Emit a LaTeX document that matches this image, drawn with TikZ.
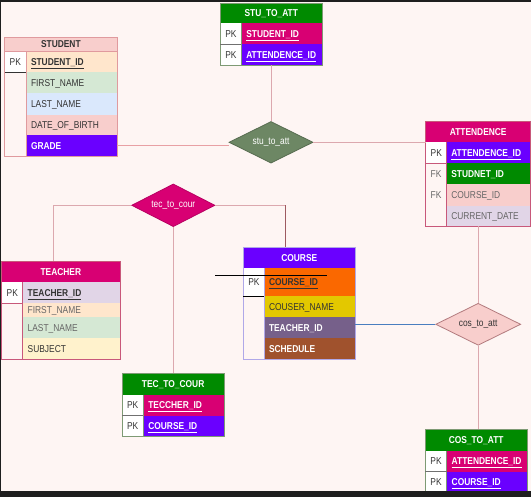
\documentclass[tikz,border=0pt]{standalone}
\usepackage{fontspec}
\setmainfont{Liberation Sans}[FakeStretch=0.84]
\usetikzlibrary{shapes.geometric}
\definecolor{cBg}{HTML}{FEF5F3}
\definecolor{cBand}{HTML}{1E1E1E}
\definecolor{cTxt}{HTML}{333333}
\definecolor{cFk}{HTML}{666666}
\definecolor{cGreen}{HTML}{008A00}
\definecolor{cMag}{HTML}{D80073}
\definecolor{cVio}{HTML}{6A00FF}
\definecolor{cOrange}{HTML}{FA6800}
\definecolor{cYellow}{HTML}{E3C800}
\definecolor{cPurp}{HTML}{76608A}
\definecolor{cBrown}{HTML}{A0522D}
\definecolor{cOlive}{HTML}{6D8764}
\definecolor{lPeach}{HTML}{FFE6CC}
\definecolor{lGreen}{HTML}{D5E8D4}
\definecolor{lBlue}{HTML}{DAE8FC}
\definecolor{lRed}{HTML}{F8CECC}
\definecolor{lPurp}{HTML}{E1D5E7}
\definecolor{lYel}{HTML}{FFF2CC}
\definecolor{bRed}{HTML}{E09A9E}
\definecolor{bMag}{HTML}{C8587A}
\definecolor{bLav}{HTML}{B0A8E8}
\definecolor{bGrn}{HTML}{7E9A74}
\definecolor{cLine}{HTML}{DCA8AE}
\definecolor{cLineS}{HTML}{E8A0A4}
\definecolor{cLineB}{HTML}{9E5A60}
\definecolor{cBlue}{HTML}{4A7EBF}
\newcommand\fs{\fontsize{10}{12}\selectfont}
\newcommand\ercell[9]{%
  \pgfmathsetmacro\ercw{#4-10}%
  \node[ercellbase, minimum width=#4pt, minimum height=#5pt, text width=\ercw pt,
        fill=#6, text=#7, #8] (#1) at (#2,#3) {#9};}
\tikzset{
  ercellbase/.style={anchor=north west, inner xsep=5pt, inner ysep=0pt, outer sep=0pt, font=\fs,
                     text height=7.2pt, text depth=0pt},
  hdr/.style={align=center, font=\fs\bfseries},
  ctr/.style={align=center},
  lft/.style={align=left},
  bf/.style={font=\fs\bfseries},
  conn/.style={draw=cLine, line width=1pt},
  outl/.style={line width=0.9pt},
  rel/.style={diamond, aspect=2, inner sep=0pt, font=\fs, line width=0.8pt},
}
\begin{document}
\begin{tikzpicture}[x=1pt, y=-1pt]
\useasboundingbox (0,0) rectangle (531,497);
\fill[cBg] (0,0) rectangle (531,497);

% ---------- relationship diamonds ----------
\node[rel, fill=cOlive, draw=cOlive!80!black, text=white, minimum width=84pt, minimum height=41.6pt] (d1) at (271,142.3) {stu\_to\_att};
\node[rel, fill=cMag, draw=cMag!85!black, text=white, minimum width=83.3pt, minimum height=42.7pt] (d2) at (173.3,205.3) {tec\_to\_cour};
\node[rel, fill=lRed, draw=bRed!80!black, text=cTxt, minimum width=85pt, minimum height=42pt] (d3) at (478.2,324.3) {cos\_to\_att};

% ---------- STUDENT ----------
\ercell{stuh}{4.7}{37.3}{112.3}{14}{lRed}{cTxt}{hdr}{STUDENT}
\ercell{stupk}{4.7}{51.3}{21.3}{20.7}{white}{cTxt}{ctr}{PK}
\ercell{stuid}{26}{51.3}{91}{20.7}{lPeach}{cTxt}{lft,bf}{\underline{STUDENT\_ID}}
\ercell{stufn}{26}{72}{91}{21.3}{lGreen}{cTxt}{lft}{FIRST\_NAME}
\ercell{stuln}{26}{93.3}{91}{21.4}{lBlue}{cTxt}{lft}{LAST\_NAME}
\ercell{studob}{26}{114.7}{91}{20.6}{lRed}{cTxt}{lft}{DATE\_OF\_BIRTH}
\ercell{stugr}{26}{135.3}{91}{20.7}{cVio}{white}{lft,bf}{GRADE}
\draw[outl, bRed] (stuh.north west) rectangle (stugr.south east);
\draw[outl, bRed] (stuh.south west) -- (stuh.south east);
\draw[outl, bRed] (stupk.north east) -- (stupk.north east |- stugr.south);
\draw[outl, cTxt] (stupk.south west) -- (stupk.south east);

% ---------- STU_TO_ATT ----------
\ercell{sah}{220.3}{3}{102}{20.3}{cGreen}{white}{hdr}{STU\_TO\_ATT}
\ercell{sapk1}{220.3}{23.3}{21}{20.7}{white}{cTxt}{ctr}{PK}
\ercell{saf1}{241.3}{23.3}{81}{20.7}{cMag}{white}{lft,bf}{\underline{STUDENT\_ID}}
\ercell{sapk2}{220.3}{44}{21}{21}{white}{cTxt}{ctr}{PK}
\ercell{saf2}{241.3}{44}{81}{21}{cVio}{white}{lft,bf}{\underline{ATTENDENCE\_ID}}
\draw[outl, bGrn] (sah.north west) rectangle (saf2.south east);
\draw[outl, bGrn] (sapk1.north east) -- (sapk2.south east);
\draw[outl, cTxt!70] (sapk1.south west) -- (sapk1.south east);

% ---------- ATTENDENCE ----------
\ercell{ath}{425.7}{121.7}{105}{20.3}{cMag}{white}{hdr}{ATTENDENCE}
\ercell{atpk1}{425.7}{142}{20.6}{21.3}{white}{cTxt}{ctr}{PK}
\ercell{atf1}{446.3}{142}{84.4}{21.3}{cVio}{white}{lft,bf}{\underline{ATTENDENCE\_ID}}
\ercell{atk2}{425.7}{163.3}{20.6}{21}{cBg}{cFk}{ctr}{FK}
\ercell{atf2}{446.3}{163.3}{84.4}{21}{cGreen}{white}{lft,bf}{STUDNET\_ID}
\ercell{atk3}{425.7}{184.3}{20.6}{21.4}{cBg}{cFk}{ctr}{FK}
\ercell{atf3}{446.3}{184.3}{84.4}{21.4}{lRed}{cFk}{lft}{COURSE\_ID}
\ercell{atk4}{425.7}{205.7}{20.6}{20.6}{cBg}{cFk}{ctr}{}
\ercell{atf4}{446.3}{205.7}{84.4}{20.6}{lPurp}{cFk}{lft}{CURRENT\_DATE}
\draw[outl, bMag] (ath.north west) rectangle (atf4.south east);
\draw[outl, bMag] (atpk1.north east) -- (atpk1.north east |- atf4.south);
\draw[outl, bMag] (atpk1.south west) -- (atpk1.south east);

% ---------- TEACHER ----------
\ercell{teh}{1.7}{261.3}{118.3}{21}{cMag}{white}{hdr}{TEACHER}
\ercell{tepk}{1.7}{282.3}{21}{21}{white}{cTxt}{ctr}{PK}
\ercell{teid}{22.7}{282.3}{97.3}{21}{lPurp}{cTxt}{lft,bf}{\underline{TEACHER\_ID}}
\ercell{tefn}{22.7}{303.3}{97.3}{14}{lPeach}{cFk}{lft}{FIRST\_NAME}
\ercell{teln}{22.7}{317.3}{97.3}{21}{lGreen}{cFk}{lft}{LAST\_NAME}
\ercell{tesu}{22.7}{338.3}{97.3}{21}{lYel}{cTxt}{lft}{SUBJECT}
\draw[outl, bMag] (teh.north west) rectangle (tesu.south east);
\draw[outl, bMag] (tepk.north east) -- (tepk.north east |- tesu.south);
\draw[outl, bMag] (tepk.south west) -- (tepk.south east);

% ---------- COURSE ----------
\ercell{coh}{243.3}{247.3}{112}{21}{cVio}{white}{hdr}{COURSE}
\ercell{copk}{243.3}{268.3}{20.7}{27.7}{white}{cTxt}{ctr}{PK}
\ercell{coid}{264}{268.3}{91.3}{27.7}{cOrange}{cTxt}{lft,bf}{\underline{COURSE\_ID}}
\ercell{conm}{264}{296}{91.3}{21.3}{cYellow}{cTxt}{lft}{COUSER\_NAME}
\ercell{cotid}{264}{317.3}{91.3}{21}{cPurp}{white}{lft,bf}{TEACHER\_ID}
\ercell{cosc}{264}{338.3}{91.3}{21}{cBrown}{white}{lft,bf}{SCHEDULE}
\draw[outl, bLav] (coh.north west) rectangle (cosc.south east);
\draw[outl, bLav] (copk.north east) -- (copk.north east |- cosc.south);
\draw[outl, black] (copk.south west) -- (copk.south east);
\coordinate (strayA) at (215,275.3);
\coordinate (strayB) at (327.3,275.3);
\draw[line width=0.8pt, black] (strayA) -- (strayB);

% ---------- TEC_TO_COUR ----------
\ercell{tch}{122}{373.3}{102.3}{21.4}{cGreen}{white}{hdr}{TEC\_TO\_COUR}
\ercell{tcpk1}{122}{394.7}{21.3}{21}{white}{cTxt}{ctr}{PK}
\ercell{tcf1}{143.3}{394.7}{81}{21}{cMag}{white}{lft,bf}{\underline{TECCHER\_ID}}
\ercell{tcpk2}{122}{415.7}{21.3}{21}{white}{cTxt}{ctr}{PK}
\ercell{tcf2}{143.3}{415.7}{81}{21}{cVio}{white}{lft,bf}{\underline{COURSE\_ID}}
\draw[outl, bGrn] (tch.north west) rectangle (tcf2.south east);
\draw[outl, bGrn] (tcpk1.north east) -- (tcpk2.south east);
\draw[outl, cTxt!70] (tcpk1.south west) -- (tcpk1.south east);

% ---------- COS_TO_ATT ----------
\ercell{cah}{425.3}{429.3}{101.7}{21.7}{cGreen}{white}{hdr}{COS\_TO\_ATT}
\ercell{capk1}{425.3}{451}{21.4}{20.7}{white}{cTxt}{ctr}{PK}
\ercell{caf1}{446.7}{451}{80.3}{20.7}{cMag}{white}{lft,bf}{\underline{ATTENDENCE\_ID}}
\ercell{capk2}{425.3}{471.7}{21.4}{20.6}{white}{cTxt}{ctr}{PK}
\ercell{caf2}{446.7}{471.7}{80.3}{20.6}{cVio}{white}{lft,bf}{\underline{COURSE\_ID}}
\draw[outl, bGrn] (cah.north west) rectangle (caf2.south east);
\draw[outl, bGrn] (capk1.north east) -- (capk2.south east);
\draw[outl, cTxt!70] (capk1.south west) -- (capk1.south east);

% ---------- connectors ----------
\draw[conn, draw=cLineS] (stugr.east) -- (stugr.east -| d1.west);
\draw[conn] (d1.north) -- (d1.north |- saf2.south);
\draw[conn] (d1.east) -- (d1.east -| ath.west);
\draw[conn] (d2.west) -| ([xshift=-7pt]teh.north);
\draw[conn] (d2.east) -- ([xshift=-13.6pt]coh.north |- d2.east);
\draw[conn, draw=cLineB] ([xshift=-13.6pt]coh.north |- d2.east) -- ([xshift=-13.6pt]coh.north);
\draw[conn] (d2.south) -- (d2.south |- tch.north);
\draw[conn] (d3.north) -- (d3.north |- atf4.south);
\draw[conn] (d3.south) -- (d3.south |- cah.north);
\draw[line width=0.9pt, cBlue] (d3.west) -- (d3.west -| cotid.east);

% ---------- frame bands ----------
\fill[cBand] (0,0) rectangle (531,2.3);
\fill[cBand] (0,0) rectangle (1,497);
\fill[cBand] (0,491.5) rectangle (531,497);
\end{tikzpicture}
\end{document}
